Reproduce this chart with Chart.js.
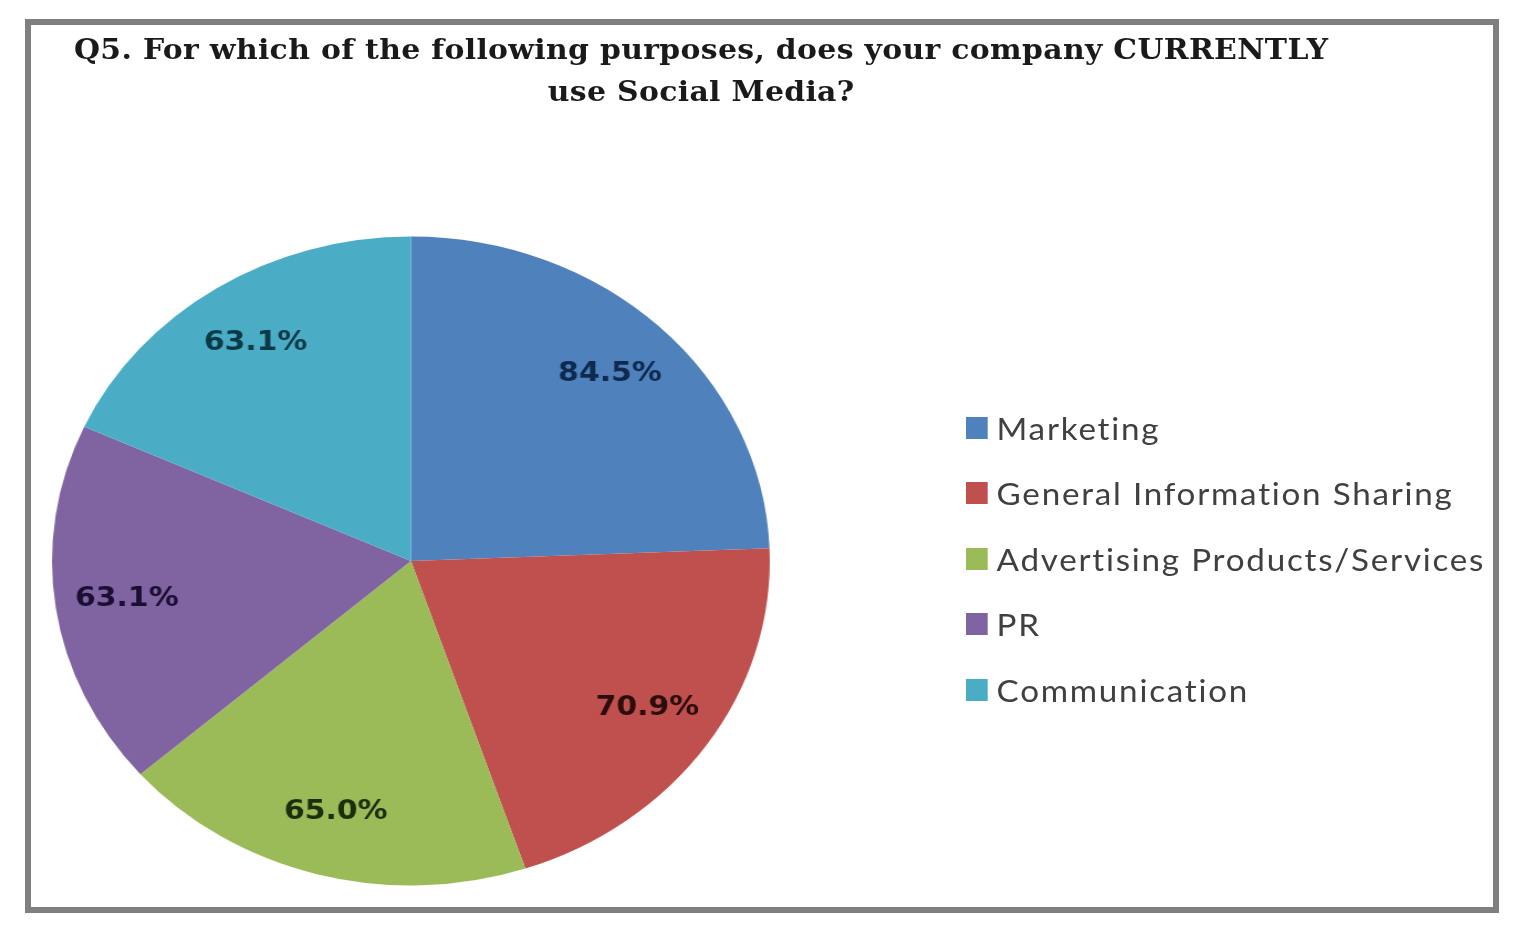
<!DOCTYPE html>
<html>
<head>
<meta charset="utf-8">
<title>Q5 - Social Media</title>
<script src="https://cdn.jsdelivr.net/npm/chart.js@4.4.1/dist/chart.umd.min.js"></script>
<style>
  html, body { margin: 0; padding: 0; background: #fff; }
  body { width: 1525px; height: 925px; position: relative; overflow: hidden; }

  /* moldura cinza em volta do gráfico */
  .moldura {
    position: absolute;
    left: 25px;
    top: 19px;
    width: 1462px;
    height: 882px;
    border: 6px solid #7f7f7f;
    overflow: hidden;
    background: #fff;
  }

  /* a imagem original está esticada na horizontal */
  .palco {
    position: absolute;
    left: 0;
    top: 0;
    width: 1322px;
    height: 882px;
    transform: scaleX(1.106);
    transform-origin: 0 0;
  }

  #grafico { position: absolute; left: 0; top: 0; }

  .titulo {
    position: absolute;
    left: 6px;
    top: 4px;
    width: 1200px;
    text-align: center;
    font: bold 27px "DejaVu Serif", serif;
    line-height: 42px;
    letter-spacing: 0.3px;
    color: #1a1a1a;
  }

  #legenda {
    position: absolute;
    left: 845px;
    top: 370px;
  }

  .item-legenda {
    height: 65.5px;
    display: flex;
    align-items: center;
    font: 30px "Lato", sans-serif;
    letter-spacing: 1.6px;
    color: #404040;
    white-space: nowrap;
  }

  .marcador {
    display: inline-block;
    width: 20px;
    height: 22px;
    margin-right: 8px;
  }
</style>
</head>
<body>
<div class="moldura">
  <div class="palco">
    <div class="titulo">Q5. For which of the following purposes, does your company CURRENTLY<br>use Social Media?</div>
    <canvas id="grafico" width="1322" height="882"></canvas>
    <div id="legenda"></div>
  </div>
</div>

<script>
const categorias = [
  "Marketing",
  "General Information Sharing",
  "Advertising Products/Services",
  "PR",
  "Communication",
];
const percentuais = [84.5, 70.9, 65.0, 63.1, 63.1];
const cores = ["#4f81bd", "#c0504d", "#9bbb59", "#8064a2", "#4bacc6"];
const coresRotulo = ["#0e2a4f", "#2a0d0c", "#1e2e0b", "#1a0f33", "#0b3a47"];

// escreve o valor de cada fatia dentro dela
const rotulosFatias = {
  id: "rotulosFatias",
  afterDatasetsDraw(chart) {
    const { ctx } = chart;
    const meta = chart.getDatasetMeta(0);

    ctx.save();
    ctx.font = "bold 27px 'DejaVu Sans', sans-serif";
    ctx.textAlign = "center";
    ctx.textBaseline = "middle";

    meta.data.forEach((arco, i) => {
      const { x, y, startAngle, endAngle, outerRadius } = arco.getProps(
        ["x", "y", "startAngle", "endAngle", "outerRadius"],
        true,
      );
      const meio = (startAngle + endAngle) / 2;
      const r = outerRadius * 0.8;

      ctx.fillStyle = coresRotulo[i];
      ctx.fillText(
        percentuais[i].toFixed(1) + "%",
        x + Math.cos(meio) * r,
        y + Math.sin(meio) * r,
      );
    });
    ctx.restore();
  },
};

function criarGrafico() {
  const ctx = document.getElementById("grafico");

  const grafico = new Chart(ctx, {
    type: "pie",
    data: {
      labels: categorias,
      datasets: [
        {
          data: percentuais,
          backgroundColor: cores,
          borderWidth: 0,
          hoverOffset: 0,
        },
      ],
    },
    options: {
      responsive: false,
      animation: false,
      devicePixelRatio: 1,
      layout: {
        padding: { left: 19, right: 654, top: 211, bottom: 21 },
      },
      plugins: {
        legend: { display: false },
        tooltip: { enabled: false },
      },
    },
    plugins: [rotulosFatias],
  });

  // legenda em html, montada a partir dos itens do próprio Chart.js
  const legenda = document.getElementById("legenda");
  const itens = grafico.options.plugins.legend.labels.generateLabels(grafico);

  itens.forEach((item) => {
    const linha = document.createElement("div");
    linha.className = "item-legenda";
    linha.innerHTML = `
      <span class="marcador" style="background:${item.fillStyle}"></span>
      <span>${item.text}</span>
    `;
    legenda.appendChild(linha);
  });
}

document.addEventListener("DOMContentLoaded", criarGrafico);
</script>
</body>
</html>
